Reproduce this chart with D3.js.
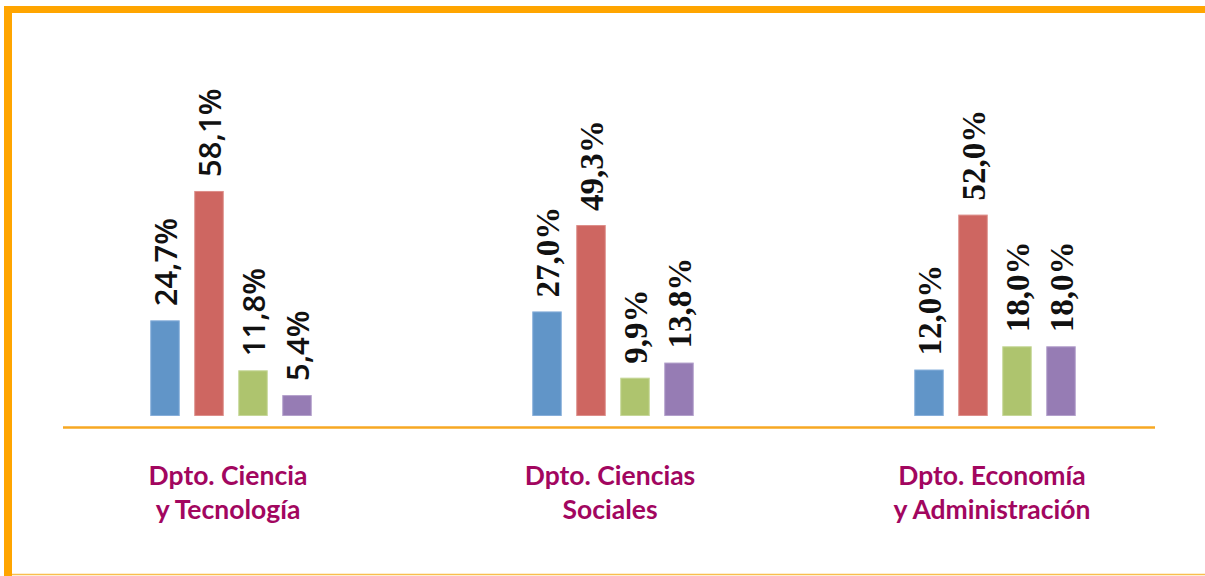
<!DOCTYPE html>
<html>
<head>
<meta charset="utf-8">
<script src="https://cdn.jsdelivr.net/npm/d3@7/dist/d3.min.js"></script>
<style>
html,body{margin:0;padding:0;background:#fff;}
svg{display:block;}
</style>
</head>
<body>
<svg id="chart" width="1205" height="576"></svg>
<script>
// ---- data ----
const categories = [
  ["Dpto. Ciencia", "y Tecnología"],
  ["Dpto. Ciencias", "Sociales"],
  ["Dpto. Economía", "y Administración"]
];
const seriesNames = ["Serie 1", "Serie 2", "Serie 3", "Serie 4"];
const seriesValues = [
  [24.7, 27.0, 12.0],
  [58.1, 49.3, 52.0],
  [11.8,  9.9, 18.0],
  [ 5.4, 13.8, 18.0]
];
const valueLabels = [
  ["24,7%", "27,0%", "12,0%"],
  ["58,1%", "49,3%", "52,0%"],
  ["11,8%", "9,9%", "18,0%"],
  ["5,4%", "13,8%", "18,0%"]
];

// ---- styles ----
const colors = ["#6195C8", "#CE6661", "#AEC46E", "#967CB4"];
const strokes = ["#86AEDA", "#DD8D89", "#C6D798", "#B3A0CB"];
const labelFonts = [
  {family: "'Open Sans', sans-serif", size: 31, weight: 600, dy: "0.38em"},
  {family: "'Liberation Serif', 'Times New Roman', serif", size: 33, weight: 700, dy: "0.36em"},
  {family: "'Liberation Serif', 'Times New Roman', serif", size: 33, weight: 700, dy: "0.36em"}
];
const orange = "#FFA500";
const magenta = "#A2065F";

const svg = d3.select("#chart");

// frame
svg.append("rect").attr("x", 4).attr("y", 6).attr("width", 1201).attr("height", 7).attr("fill", orange);
svg.append("rect").attr("x", 4).attr("y", 6).attr("width", 8).attr("height", 570).attr("fill", orange);
svg.append("line").attr("x1", 12).attr("x2", 1205).attr("y1", 574.5).attr("y2", 574.5)
  .attr("stroke", "#F9BE4E").attr("stroke-width", 1.5);

// scales
const x0 = d3.scaleBand().domain(d3.range(categories.length)).range([40, 1186]).paddingInner(0).paddingOuter(0);
const x1 = d3.scaleBand().domain(d3.range(seriesNames.length)).range([-88, 88]).paddingInner(0.33).paddingOuter(0.165);
const y = d3.scaleLinear().domain([0, 60]).range([416, 183.6]);

// axis line
svg.append("line").attr("x1", 63).attr("x2", 1155).attr("y1", 427.5).attr("y2", 427.5)
  .attr("stroke", "#F7A823").attr("stroke-width", 2.5);

const groups = svg.selectAll("g.grp").data(categories).enter().append("g")
  .attr("class", "grp")
  .attr("transform", (d, i) => `translate(${x0(i) + x0.bandwidth() / 2},0)`);

groups.each(function(cat, ci) {
  const g = d3.select(this);
  seriesNames.forEach((s, si) => {
    const v = seriesValues[si][ci];
    const bx = x1(si);
    g.append("rect")
      .attr("x", bx + 0.5)
      .attr("y", y(v) + 0.5)
      .attr("width", x1.bandwidth() - 1)
      .attr("height", y(0) - y(v) - 1)
      .attr("fill", colors[si])
      .attr("stroke", strokes[si])
      .attr("stroke-width", 1);
    const f = labelFonts[ci];
    g.append("text")
      .attr("transform", `translate(${bx + x1.bandwidth() / 2},${y(v) - 14}) rotate(-90)`)
      .attr("text-anchor", "start")
      .attr("dy", f.dy)
      .attr("font-family", f.family)
      .attr("font-size", f.size)
      .attr("font-weight", f.weight)
      .attr("fill", "#111")
      .text(valueLabels[si][ci]);
  });
  const t = g.append("text")
    .attr("text-anchor", "middle")
    .attr("font-family", "Lato, 'Open Sans', sans-serif")
    .attr("font-weight", 700)
    .attr("font-size", 26.5)
    .attr("fill", magenta);
  cat.forEach((line, li) => {
    t.append("tspan").attr("x", -3).attr("y", 485 + li * 34).text(line);
  });
});
</script>
</body>
</html>
